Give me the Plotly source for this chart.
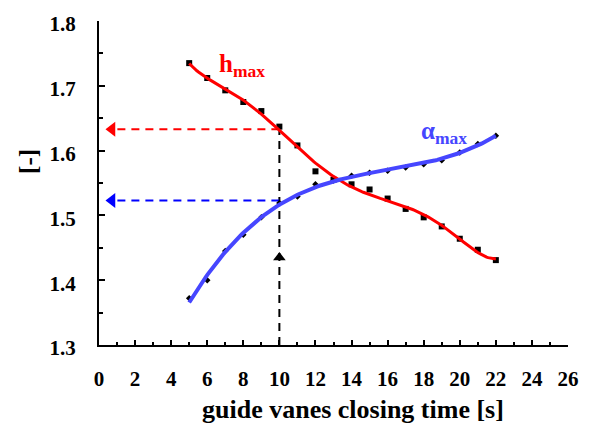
import numpy as np
import plotly.graph_objects as go

# closing time of the guide vanes [s]
t = [5, 6, 7, 8, 9, 10, 11, 12, 13, 14, 15, 16, 17, 18, 19, 20, 21, 22]
# maximum head rise ratio
h_max = [1.735, 1.712, 1.693, 1.675, 1.661, 1.637, 1.608, 1.568, 1.555, 1.548,
         1.540, 1.526, 1.510, 1.497, 1.483, 1.464, 1.447, 1.431]
# maximum speed rise ratio
a_max = [1.372, 1.400, 1.445, 1.470, 1.497, 1.519, 1.529, 1.548, 1.554, 1.561,
         1.566, 1.569, 1.574, 1.579, 1.585, 1.597, 1.610, 1.623]

x_ticks = list(range(0, 27, 2))
y_ticks = [1.3, 1.4, 1.5, 1.6, 1.7, 1.8]

t_sel = 10          # chosen closing time
h_sel = 1.633       # h_max read at t_sel
a_sel = 1.523       # alpha_max read at t_sel

FONT = "Liberation Serif"
RED = "#ff0000"
BLUE = "#4646ff"

# smooth trend curves through the measured points
tt = np.linspace(min(t), max(t), 200)
h_fit = np.polyval(np.polyfit(t, h_max, 6), tt)
a_fit = np.polyval(np.polyfit(t, a_max, 3), tt)

fig = go.Figure()

# guide lines
fig.add_trace(go.Scatter(x=[t_sel, t_sel], y=[1.3, h_max[t.index(t_sel)]], mode="lines",
                         line=dict(color="black", width=2, dash="8px,6px"),
                         hoverinfo="skip", showlegend=False))
fig.add_trace(go.Scatter(x=[t_sel, 0.5], y=[h_sel, h_sel], mode="lines",
                         line=dict(color=RED, width=2, dash="8px,6px"),
                         hoverinfo="skip", showlegend=False))
fig.add_trace(go.Scatter(x=[t_sel, 0.5], y=[a_sel, a_sel], mode="lines",
                         line=dict(color="#0000ff", width=2, dash="8px,6px"),
                         hoverinfo="skip", showlegend=False))
# arrow heads
fig.add_trace(go.Scatter(x=[0.72], y=[h_sel], mode="markers",
                         marker=dict(symbol="triangle-left", size=13, color=RED),
                         hoverinfo="skip", showlegend=False))
fig.add_trace(go.Scatter(x=[0.72], y=[a_sel], mode="markers",
                         marker=dict(symbol="triangle-left", size=13, color="#0000ff"),
                         hoverinfo="skip", showlegend=False))
fig.add_trace(go.Scatter(x=[t_sel], y=[1.435], mode="markers",
                         marker=dict(symbol="triangle-up", size=11, color="black"),
                         hoverinfo="skip", showlegend=False))

# measured points
fig.add_trace(go.Scatter(x=t, y=h_max, mode="markers",
                         marker=dict(symbol="square", size=6, color="black"),
                         showlegend=False))
fig.add_trace(go.Scatter(x=t, y=a_max, mode="markers",
                         marker=dict(symbol="diamond", size=5, color="black"),
                         showlegend=False))

# trend curves
fig.add_trace(go.Scatter(x=tt, y=h_fit, mode="lines",
                         line=dict(color=RED, width=3), showlegend=False))
fig.add_trace(go.Scatter(x=tt, y=a_fit, mode="lines",
                         line=dict(color=BLUE, width=4), showlegend=False))

fig.add_annotation(x=7.94, y=1.732, xref="x", yref="y", showarrow=False,
                   text="<b>h<sub>max</sub></b>",
                   font=dict(family=FONT, size=25, color=RED))
fig.add_annotation(x=19.1, y=1.6276, xref="x", yref="y", showarrow=False,
                   text="<b>α<sub>max</sub></b>",
                   font=dict(family=FONT, size=25, color=BLUE))

# axis titles
fig.add_annotation(x=0.541, y=-0.2, xref="paper", yref="paper", showarrow=False,
                   xanchor="center", yanchor="middle",
                   text="<b>guide vanes closing time [s]</b>",
                   font=dict(family=FONT, size=26, color="black"))
fig.add_annotation(x=-0.149, y=0.5655, xref="paper", yref="paper", showarrow=False,
                   xanchor="center", yanchor="middle", textangle=-90,
                   text="<b>[-]</b>",
                   font=dict(family=FONT, size=25, color="black"))

axis_font = dict(family=FONT, size=21, color="black", weight="bold")
fig.update_xaxes(range=[0, 26], tickvals=x_ticks, ticktext=[str(v) for v in x_ticks],
                 showgrid=False, zeroline=False, showline=True, linecolor="black",
                 linewidth=2, ticks="inside", ticklen=5, tickwidth=1.5, tickcolor="black",
                 minor=dict(dtick=1, ticks="inside", ticklen=3, tickwidth=1.5,
                            tickcolor="black", showgrid=False),
                 tickfont=axis_font, ticklabelstandoff=14)
fig.update_yaxes(range=[1.3, 1.8], tickvals=y_ticks, ticktext=[f"{v:.1f}" for v in y_ticks],
                 showgrid=False, zeroline=False, showline=True, linecolor="black",
                 linewidth=2, ticks="inside", ticklen=6, tickwidth=1.5, tickcolor="black",
                 minor=dict(dtick=0.05, ticks="inside", ticklen=4, tickwidth=1.5,
                            tickcolor="black", showgrid=False),
                 tickfont=axis_font, ticklabelstandoff=17, ticklabelshift=3)

fig.update_layout(width=591, height=425, margin=dict(l=99, r=19, t=17, b=80),
                  paper_bgcolor="white", plot_bgcolor="white",
                  font=dict(family=FONT))

fig.write_html("out.html")
